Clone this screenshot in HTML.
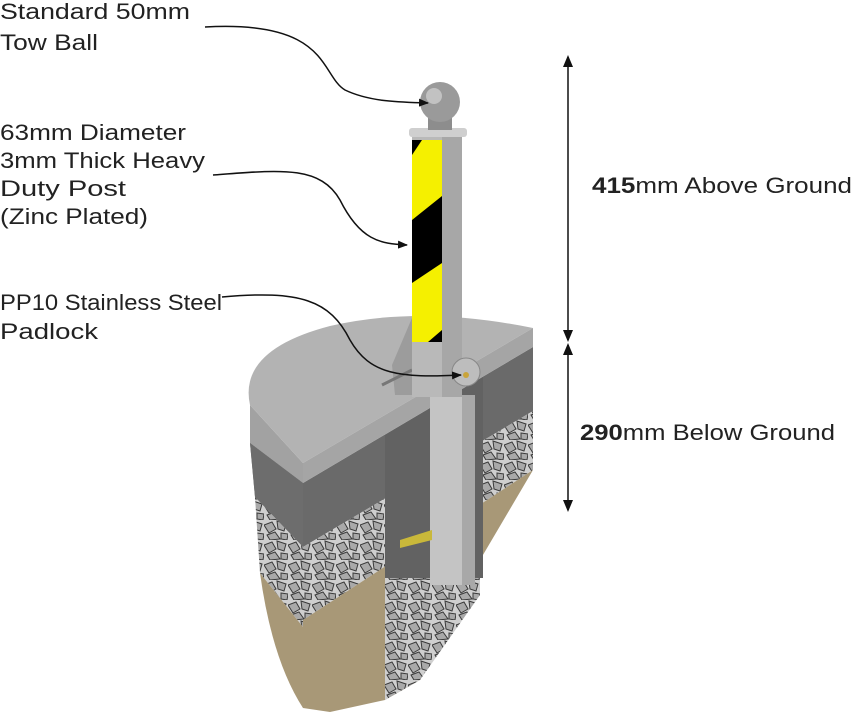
<!DOCTYPE html>
<html><head><meta charset="utf-8"><style>
body{margin:0;background:#fff}
svg{display:block}
text{font-family:"Liberation Sans",sans-serif;fill:#222}
</style></head><body>
<svg width="854" height="720" viewBox="0 0 854 720" xmlns="http://www.w3.org/2000/svg">
<defs>
<pattern id="grav" width="24" height="20" patternUnits="userSpaceOnUse">
<rect width="24" height="20" fill="#cfcfcf"/>
<path d="M0 5 L8 2 L12 9 L5 13 Z M13 1 L22 4 L20 11 L14 9 Z M3 15 L11 12 L16 19 L6 20 Z M17 13 L24 14 L23 20 L17 19Z" fill="#a9a9a9" stroke="#3a3a3a" stroke-width="1"/>
</pattern>
<marker id="ar" markerWidth="10" markerHeight="10" refX="9" refY="5" orient="auto" markerUnits="userSpaceOnUse"><path d="M0 1 L10 5 L0 9 Z" fill="#111"/></marker>
</defs>
<path d="M250 405 L303 463 L303 483 L250 443 Z" fill="#a2a2a2"/>
<path d="M250 443 L303 483 L303 547 L255 497 Z" fill="#6d6d6d"/>
<path d="M250 443 L255 497 L303 547 L303 483 Z" fill="#6d6d6d"/>
<path d="M255 497 L303 547 L303 627 L260 573 Z" fill="url(#grav)"/>
<path d="M260 573 L303 627 L303 708 Q272 660 260 573 Z" fill="#a89877"/>
<path d="M303 483 L533 347 L533 411 L303 547 Z" fill="#6a6a6a"/>
<path d="M303 547 L533 411 L533 470 L303 620 Z" fill="url(#grav)"/>
<path d="M303 620 L533 470 L480 560 L420 680 L385 700 L330 712 L303 708 Z" fill="#a89877"/>
<path d="M385 435 L483 377 L483 578 L385 578 Z" fill="#626262"/>
<path d="M385 578 L480 578 L480 595 L420 680 L385 700 Z" fill="url(#grav)"/>
<path d="M250 405 Q238 350 330 326 Q420 305 533 328 L303 463 Z" fill="#b3b3b3"/>
<path d="M303 463 L533 328 L533 347 L303 483 Z" fill="#a5a5a5"/>
<rect x="430" y="395" width="45" height="190" fill="#c4c4c4"/>
<rect x="462" y="395" width="13" height="190" fill="#a8a8a8"/>
<path d="M400 540 L432 530 L432 540 L400 548Z" fill="#c9b83a"/>
<path d="M392 365 L412 318 L412 395 L395 395Z" fill="#9c9c9c"/>
<line x1="382" y1="385" x2="412" y2="370" stroke="#777" stroke-width="3"/>
<rect x="412" y="135" width="50" height="262" fill="#b9b9b9"/>
<rect x="442" y="135" width="20" height="262" fill="#a7a7a7"/>
<rect x="412" y="140" width="30" height="202" fill="#f5f000"/>
<path d="M412 140 L422 140 L412 155 Z" fill="#000"/>
<path d="M412 220 L442 196 L442 263 L412 283 Z" fill="#000"/>
<path d="M442 330 L442 342 L428 342 Z" fill="#000"/>
<rect x="409" y="128" width="58" height="9" rx="3" fill="#cfcfcf"/>
<rect x="428" y="112" width="24" height="18" fill="#8d8d8d"/>
<circle cx="440" cy="102" r="20" fill="#9a9a9a"/>
<circle cx="434" cy="96" r="8" fill="#c2c2c2"/>
<circle cx="466" cy="372" r="14" fill="#bdbdbd" stroke="#888"/>
<circle cx="466" cy="375" r="3" fill="#c9a43a"/>
<g fill="none" stroke="#111" stroke-width="1.5">
<path d="M205 27 C330 20 320 75 345 90 C370 102 400 102 428 103" marker-end="url(#ar)"/>
<path d="M213 175 C280 170 320 165 340 200 C360 240 380 244 407 245" marker-end="url(#ar)"/>
<path d="M222 297 C300 290 330 300 350 340 C370 375 400 378 461 375" marker-end="url(#ar)"/>
<path d="M568 57 L568 340 M568 345 L568 510"/>
</g>
<path d="M568 55 L563 67 L573 67Z M568 342 L563 330 L573 330Z M568 343 L563 355 L573 355Z M568 512 L563 500 L573 500Z" fill="#111"/>
<g font-size="22">
<text x="0" y="19" textLength="190" lengthAdjust="spacingAndGlyphs">Standard 50mm</text>
<text x="0" y="50" textLength="98" lengthAdjust="spacingAndGlyphs">Tow Ball</text>
<text x="0" y="140" textLength="186" lengthAdjust="spacingAndGlyphs">63mm Diameter</text>
<text x="0" y="168" textLength="205" lengthAdjust="spacingAndGlyphs">3mm Thick Heavy</text>
<text x="0" y="196" textLength="126" lengthAdjust="spacingAndGlyphs">Duty Post</text>
<text x="0" y="224" textLength="148" lengthAdjust="spacingAndGlyphs">(Zinc Plated)</text>
<text x="0" y="310" textLength="222" lengthAdjust="spacingAndGlyphs">PP10 Stainless Steel</text>
<text x="0" y="339" textLength="98" lengthAdjust="spacingAndGlyphs">Padlock</text>
<text x="592" y="193" textLength="260" lengthAdjust="spacingAndGlyphs"><tspan font-weight="bold">415</tspan>mm Above Ground</text>
<text x="580" y="440" textLength="255" lengthAdjust="spacingAndGlyphs"><tspan font-weight="bold">290</tspan>mm Below Ground</text>
</g>
</svg>
</body></html>
